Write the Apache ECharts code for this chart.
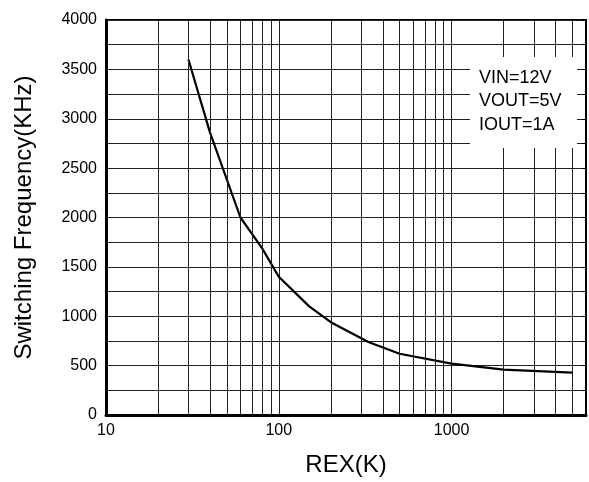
<!DOCTYPE html>
<html>
<head>
<meta charset="utf-8">
<script src="https://cdn.jsdelivr.net/npm/echarts@6/dist/echarts.min.js"></script>
<style>
  html, body { margin: 0; padding: 0; background: #fff; }
  #chart { width: 589px; height: 482px; }
</style>
</head>
<body>
<div id="chart"></div>
<script>
// REX(K) vs switching frequency (KHz)
var rex = [30, 40, 60, 80, 100, 150, 200, 330, 500, 1000, 2000, 5000];
var freq = [3600, 2860, 2000, 1690, 1400, 1100, 940, 740, 620, 520, 460, 430];
// log grid lines between decades
var minorGridX = [20, 30, 40, 50, 60, 70, 80, 90, 200, 300, 400, 500, 600, 700, 800, 900, 2000, 3000, 4000, 5000];
var noteLines = ['VIN=12V', 'VOUT=5V', 'IOUT=1A'];

var font = 'Liberation Sans, Arial, sans-serif';
var gridColor = '#222';

var chart = echarts.init(document.getElementById('chart'));

var option = {
  animation: false,
  textStyle: { fontFamily: font },
  grid: {
    left: 106, right: 3, top: 20, bottom: 65,
    show: true, borderColor: '#000', borderWidth: 2
  },
  xAxis: {
    type: 'log',
    logBase: 10,
    min: 10,
    max: 6000,
    name: 'REX(K)',
    nameLocation: 'middle',
    nameGap: 38,
    nameTextStyle: { fontSize: 24, color: '#000', fontFamily: font },
    axisLine: { show: true, lineStyle: { color: '#000', width: 3 } },
    axisTick: { show: false },
    axisLabel: {
      fontSize: 16, color: '#000', margin: 8, fontFamily: font,
      showMaxLabel: false,
      formatter: function (v) { return String(Math.round(v)); }
    },
    splitLine: { show: true, lineStyle: { color: gridColor, width: 1 } }
  },
  yAxis: [
    {
      type: 'value',
      min: 0,
      max: 4000,
      interval: 500,
      name: 'Switching Frequency(KHz)',
      nameLocation: 'middle',
      nameGap: 70,
      nameTextStyle: { fontSize: 24, color: '#000', fontFamily: font },
      axisLine: { show: true, lineStyle: { color: '#000', width: 3 } },
      axisTick: { show: false },
      axisLabel: {
        fontSize: 16, color: '#000', margin: 9, fontFamily: font,
        formatter: function (v) { return String(v); }
      },
      splitLine: { show: true, lineStyle: { color: gridColor, width: 1 } },
      minorTick: { show: false, splitNumber: 2 },
      minorSplitLine: { show: true, lineStyle: { color: gridColor, width: 1 } }
    },
    {
      type: 'value',
      position: 'right',
      min: 0,
      max: 4000,
      interval: 250,
      axisLine: { show: true, lineStyle: { color: '#000', width: 2 } },
      axisTick: { show: true, inside: true, length: 4, lineStyle: { color: '#000', width: 1 } },
      axisLabel: { show: false },
      splitLine: { show: false }
    }
  ],
  graphic: [
    {
      type: 'rect',
      z: 100,
      left: 470, top: 57,
      shape: { width: 107, height: 91 },
      style: { fill: '#fff' }
    },
    {
      type: 'text',
      z: 101,
      left: 479, top: 66,
      style: {
        text: noteLines.join('\n'),
        font: '18px ' + font,
        lineHeight: 23.5,
        fill: '#000'
      }
    }
  ],
  series: [
    {
      type: 'line',
      data: [],
      z: 1,
      silent: true,
      markLine: {
        silent: true,
        symbol: 'none',
        label: { show: false },
        emphasis: { disabled: true },
        lineStyle: { color: gridColor, width: 1, type: 'solid' },
        data: minorGridX.map(function (v) { return { xAxis: v }; })
      }
    },
    {
      type: 'line',
      z: 3,
      data: rex.map(function (r, i) { return [r, freq[i]]; }),
      showSymbol: false,
      smooth: false,
      lineStyle: { color: '#000', width: 2.2 }
    }
  ]
};

option && chart.setOption(option);
</script>
</body>
</html>
